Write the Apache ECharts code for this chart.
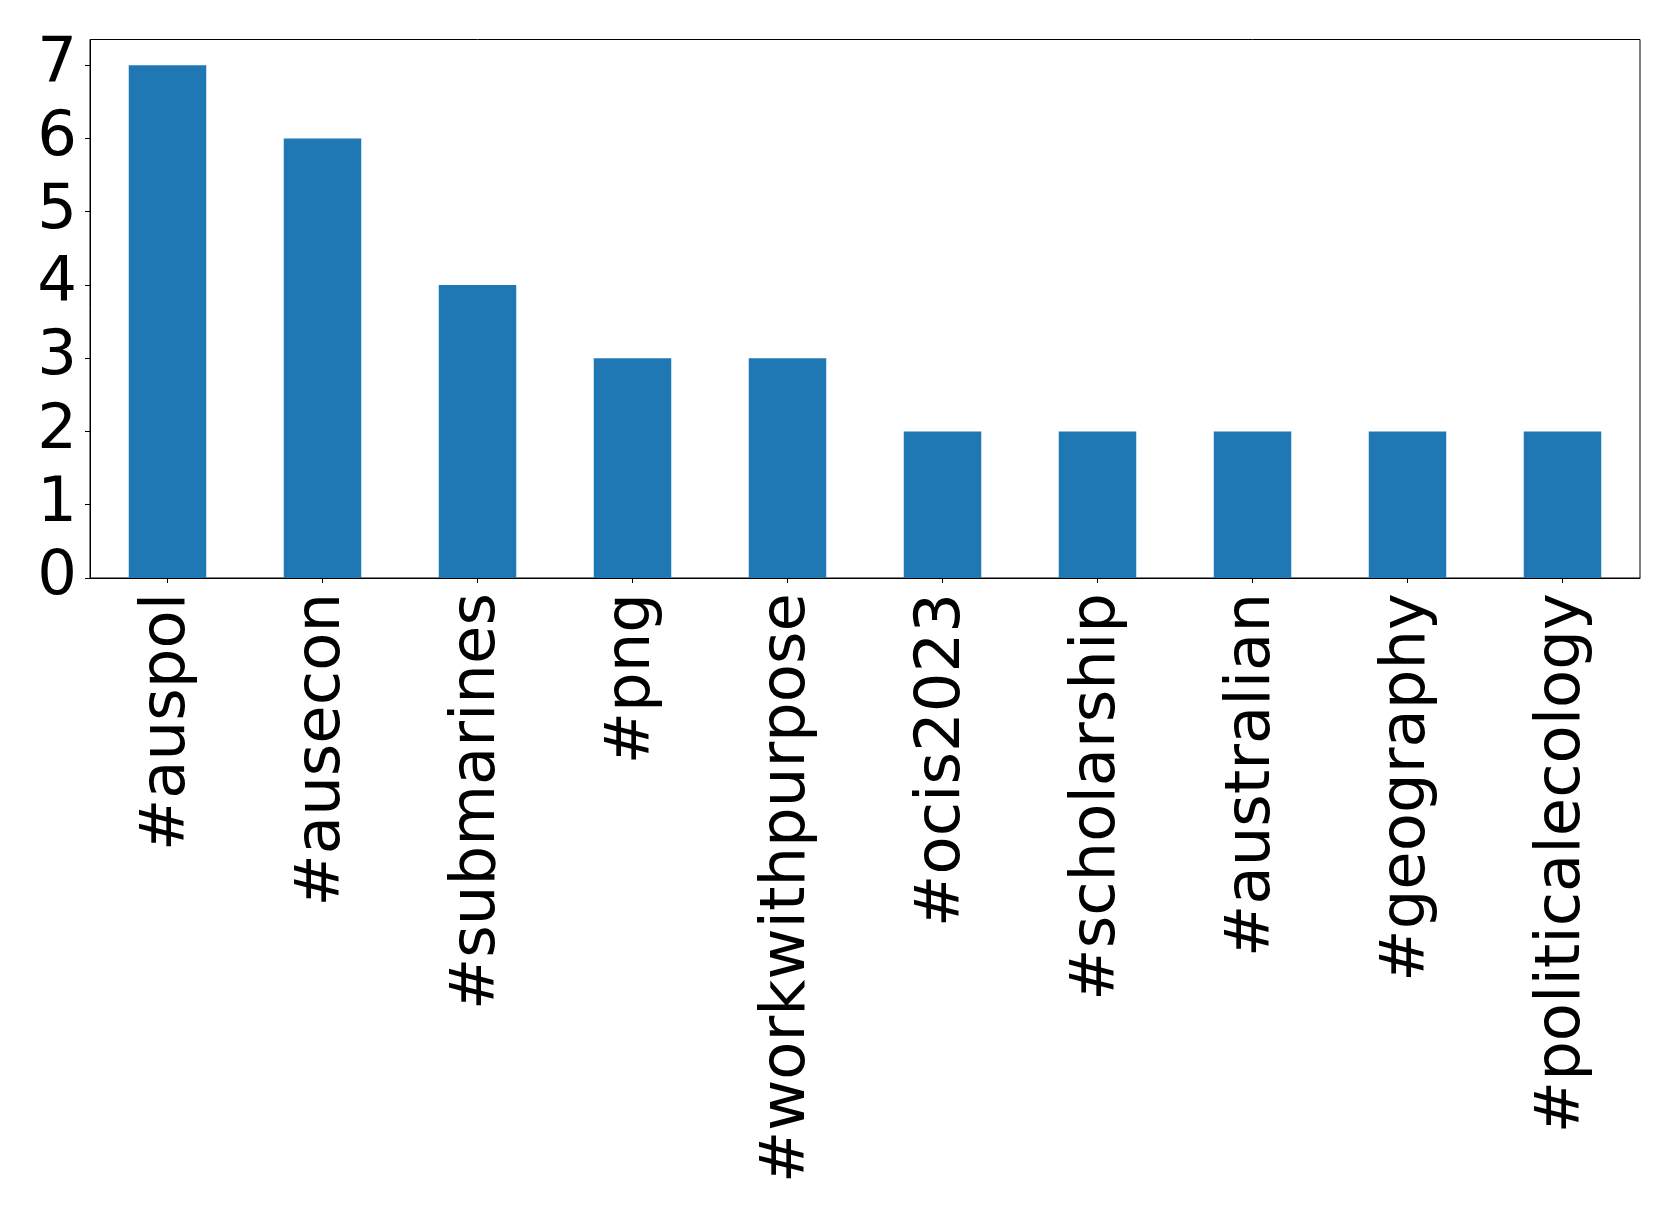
<!DOCTYPE html>
<html>
<head>
<meta charset="utf-8">
<script src="https://cdn.jsdelivr.net/npm/echarts@6/dist/echarts.min.js"></script>
<style>html,body{margin:0;padding:0;background:#fff;}#c{width:1679px;height:1218px;}</style>
</head>
<body>
<div id="c"></div>
<script>
const categories = ['#auspol', '#ausecon', '#submarines', '#png', '#workwithpurpose', '#ocis2023', '#scholarship', '#australian', '#geography', '#politicalecology'];
const counts = [7, 6, 4, 3, 3, 2, 2, 2, 2, 2];
const yTicks = [0, 1, 2, 3, 4, 5, 6, 7];

const chart = echarts.init(document.getElementById('c'), null, {renderer: 'canvas'});
chart.setOption({
  animation: false,
  backgroundColor: '#ffffff',
  grid: {left: 90, right: 39, top: 39.5, bottom: 640, show: true, borderColor: '#000', borderWidth: 1, backgroundColor: 'transparent'},
  xAxis: {
    type: 'category',
    data: categories,
    boundaryGap: true,
    axisLine: {show: true, lineStyle: {color: '#000', width: 1}},
    axisTick: {show: true, alignWithLabel: true, length: 5, lineStyle: {color: '#000'}},
    axisLabel: {rotate: 90, interval: 0, margin: 15, color: '#000', fontSize: 62.5, fontFamily: 'DejaVu Sans', padding: [5, 0, 0, 0]},
    splitLine: {show: false}
  },
  yAxis: {
    type: 'value',
    min: 0,
    max: 7.35,
    interval: 1,
    axisLine: {show: true, lineStyle: {color: '#000', width: 1}},
    axisTick: {show: true, length: 5, lineStyle: {color: '#000'}, customValues: yTicks},
    axisLabel: {color: '#000', fontSize: 62.5, fontFamily: 'DejaVu Sans', margin: 13, customValues: yTicks},
    splitLine: {show: false}
  },
  series: [{
    type: 'bar',
    data: counts,
    barWidth: '50%',
    itemStyle: {color: '#1f77b4'}
  }]
});
</script>
</body>
</html>
